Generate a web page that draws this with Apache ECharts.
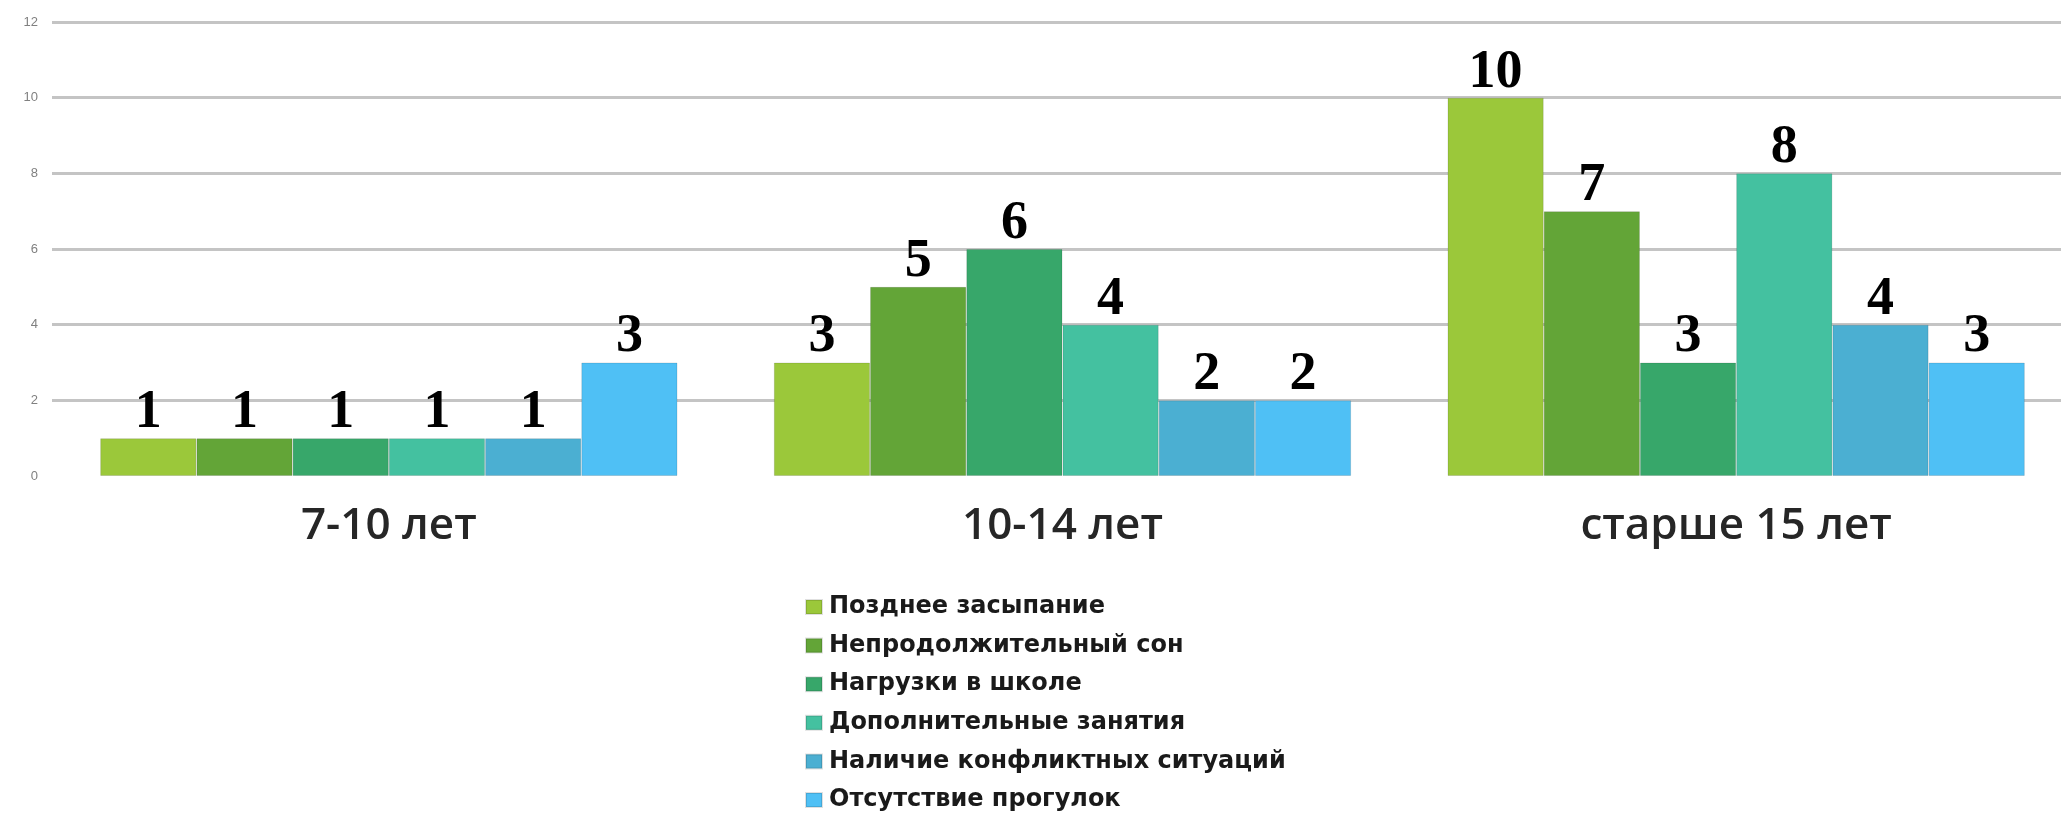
<!DOCTYPE html>
<html lang="ru">
<head>
    <meta charset="UTF-8">
    <title>Причины нарушения сна</title>
    <style type="text/css">
        body{
            margin: 0px;
            padding: 0px;
            background: #ffffff;
            overflow: hidden;
        }
        /* чуть шире окна: сетка уходит за правый край, как в оригинале */
        #chart{
            width: 2080px;
            height: 815px;
        }
    </style>
</head>
<body>
    <div id="chart"></div>
</body>
<script src="https://cdn.jsdelivr.net/npm/echarts@6/dist/echarts.min.js" type="text/javascript"></script>
<script type="text/javascript">
    // данные
    var categories = ['7-10 лет', '10-14 лет', 'старше 15 лет'];
    var seriesNames = [
        'Позднее засыпание',
        'Непродолжительный сон',
        'Нагрузки в школе',
        'Дополнительные занятия',
        'Наличие конфликтных ситуаций',
        'Отсутствие прогулок'
    ];
    var lateSleep = [1, 3, 10];
    var shortSleep = [1, 5, 7];
    var schoolLoad = [1, 6, 3];
    var extraLessons = [1, 4, 8];
    var conflicts = [1, 2, 4];
    var noWalks = [3, 2, 3];
    var yTicks = [0, 2, 4, 6, 8, 10, 12];

    var colors = ['#9bc83a', '#63a537', '#37a76a', '#44c1a0', '#4bafd2', '#4fc0f5'];
    var values = [lateSleep, shortSleep, schoolLoad, extraLessons, conflicts, noWalks];

    var series = [];
    for (var i = 0; i < seriesNames.length; i++) {
        series.push({
            name: seriesNames[i],
            type: 'bar',
            data: values[i],
            barGap: '0%',
            barCategoryGap: '14.3%',
            itemStyle: {
                color: colors[i],
                borderColor: 'rgba(0,0,0,0.12)',
                borderWidth: 1
            },
            label: {
                show: true,
                position: 'top',
                distance: -2,
                color: '#000',
                fontFamily: '"Liberation Serif", "Times New Roman", serif',
                fontWeight: 'bold',
                fontSize: 54
            }
        });
    }

    var myChart = echarts.init(document.getElementById('chart'));
    myChart.setOption({
        animation: false,
        color: colors,
        grid: {
            left: 52,
            top: 22,
            width: 2021,
            height: 454
        },
        legend: {
            orient: 'vertical',
            left: 805,
            top: 595,
            padding: 0,
            itemWidth: 16,
            itemHeight: 14,
            itemGap: 14.6,
            icon: 'rect',
            data: seriesNames,
            textStyle: {
                fontFamily: '"DejaVu Sans", sans-serif',
                fontWeight: 'bold',
                fontSize: 24,
                color: '#1a1a1a',
                padding: [0, 0, 0, 2]
            }
        },
        xAxis: {
            type: 'category',
            data: categories,
            z: 1,
            axisLine: {show: true, lineStyle: {color: '#ffffff', width: 4}},
            axisTick: {show: false},
            axisLabel: {
                margin: 28,
                fontFamily: '"Open Sans", sans-serif',
                fontWeight: 600,
                fontSize: 44,
                color: '#262626'
            }
        },
        yAxis: {
            type: 'value',
            min: yTicks[0],
            max: yTicks[yTicks.length - 1],
            interval: 2,
            axisLine: {show: false},
            axisTick: {show: false},
            axisLabel: {
                margin: 14,
                fontSize: 13,
                color: '#808080',
                fontFamily: '"Liberation Sans", sans-serif'
            },
            splitLine: {lineStyle: {color: '#c4c4c4', width: 3}}
        },
        series: series
    });
</script>
</html>
